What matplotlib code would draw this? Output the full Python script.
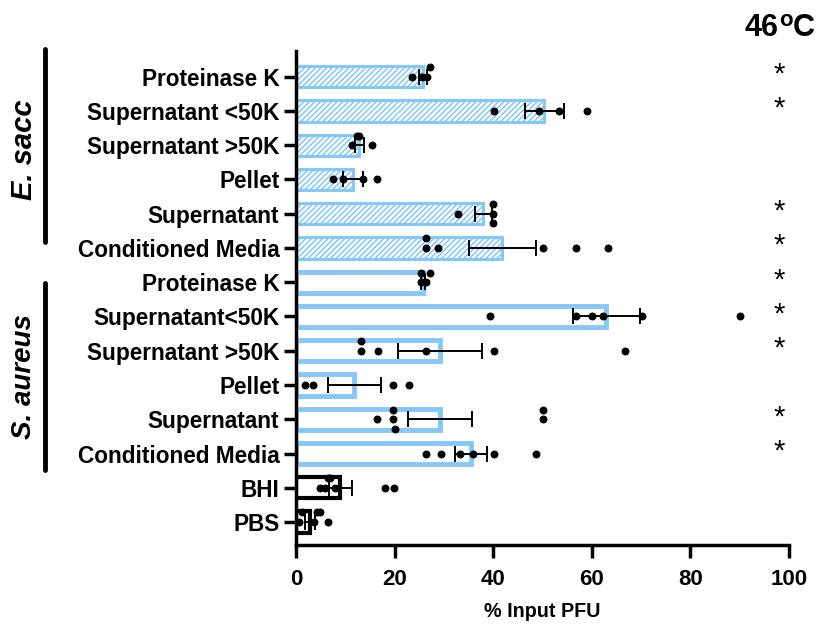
import numpy as np
import matplotlib
matplotlib.use("Agg")
import matplotlib.pyplot as plt
from matplotlib.lines import Line2D

plt.rcParams['font.family'] = ['Liberation Sans', 'DejaVu Sans']
plt.rcParams['font.weight'] = 'bold'
plt.rcParams['hatch.linewidth'] = 1.1

# rows listed top to bottom
labels = ["Proteinase K", "Supernatant <50K", "Supernatant >50K", "Pellet",
          "Supernatant", "Conditioned Media",
          "Proteinase K", "Supernatant<50K", "Supernatant >50K", "Pellet",
          "Supernatant", "Conditioned Media",
          "BHI", "PBS"]
groups = ["esacc"] * 6 + ["saureus"] * 6 + ["ctrl"] * 2

means = [25.7, 50.4, 12.8, 11.6, 38.0, 41.8,
         25.8, 62.9, 29.2, 11.8, 29.2, 35.5,
         9.0, 2.8]
sems = [0.8, 4.0, 0.9, 2.0, 1.7, 6.8,
        0.4, 6.8, 8.6, 5.4, 6.5, 3.2,
        2.4, 1.0]
points = [
    [23.5, 25.5, 26.5, 27.1],
    [40.1, 49.2, 53.3, 59.1],
    [11.4, 12.3, 12.7, 15.4],
    [7.6, 9.5, 13.5, 16.4],
    [32.9, 40.0, 40.0, 40.0],
    [26.3, 26.3, 28.9, 50.1, 56.7, 63.2],
    [25.3, 25.3, 26.3, 27.2],
    [39.4, 56.7, 60.1, 62.3, 70.1, 90.1],
    [13.2, 13.2, 16.7, 26.3, 40.1, 66.8],
    [1.9, 3.4, 19.7, 23.0],
    [16.4, 19.7, 19.7, 20.1, 50.1, 50.1],
    [26.3, 29.5, 33.3, 36.0, 40.1, 48.7],
    [4.8, 5.8, 6.4, 6.8, 7.9, 18.0, 19.8],
    [0.7, 1.2, 3.6, 4.3, 4.9, 6.4],
]
stars = [True, True, False, False, True, True,
         True, True, True, False, True, True,
         False, False]

blue = "#85C7F7"

W, H = 820, 624
fig = plt.figure(figsize=(W / 100, H / 100), dpi=100)
ax = fig.add_axes([296 / W, 1 - 545 / H, (789 - 296) / W, (545 - 51) / H])

n = len(labels)
ypos = np.arange(n)[::-1]

for y, m, s, g, pts in zip(ypos, means, sems, groups, points):
    if g == "esacc":
        ax.barh(y, m, height=0.62, color="white", edgecolor=blue, hatch="//////",
                linewidth=2.2, zorder=2)
    elif g == "saureus":
        ax.barh(y, m, height=0.62, color="white", edgecolor=blue,
                linewidth=3.5, zorder=2)
    else:
        ax.barh(y, m, height=0.62, color="white", edgecolor="black",
                linewidth=3.0, zorder=2)
    ax.errorbar(m, y, xerr=s, fmt="none", ecolor="black", elinewidth=1.4,
                capsize=6, capthick=1.4, zorder=3)
    # spread near-identical values vertically
    vals = sorted(pts)
    offs = []
    for i, v in enumerate(vals):
        k = sum(1 for u in vals[:i] if abs(u - v) < 1.0)
        offs.append([0, 0.28, -0.28, 0.14, -0.14][k % 5])
    ax.scatter(vals, y + np.array(offs), s=22, color="black", zorder=4)

for y, st in zip(ypos, stars):
    if st:
        ax.text(98, y + 0.06, "*", ha="center", va="center", fontsize=21,
                fontweight="normal")

ax.set_xlim(0, 100)
ax.set_ylim(-0.67, n - 1 + 0.75)
ax.set_xticks([0, 20, 40, 60, 80, 100])
ax.set_yticks(ypos)
ax.set_yticklabels(labels)
ax.tick_params(axis="y", length=9, width=2.5, labelsize=16.3, pad=3)
ax.tick_params(axis="x", length=9, width=2.5, labelsize=16, pad=8)
ax.set_xlabel("% Input PFU", fontsize=14.2, fontweight="bold", labelpad=9)
for side in ["top", "right"]:
    ax.spines[side].set_visible(False)
for side in ["left", "bottom"]:
    ax.spines[side].set_linewidth(2.5)

# title 46oC with a raised o
fig.text(779 / W, 1 - 36 / H, "46", ha="right", va="baseline",
         fontsize=22, fontweight="bold")
fig.text(779 / W, 1 - 26 / H, "o", ha="left", va="baseline",
         fontsize=16, fontweight="bold")
fig.text(793 / W, 1 - 36 / H, "C", ha="left", va="baseline",
         fontsize=22, fontweight="bold")

# group brackets on the left
def fx(x):
    return x / W

def fy(y):
    return 1 - y / H

fig.add_artist(Line2D([fx(45), fx(45)], [fy(49), fy(242)], color="black",
                      linewidth=3.5, solid_capstyle="round"))
fig.add_artist(Line2D([fx(45), fx(45)], [fy(283), fy(470)], color="black",
                      linewidth=3.5, solid_capstyle="round"))
fig.text(fx(24), fy(150), "E. sacc", rotation=90, ha="center", va="center",
         fontsize=21, fontweight="bold", style="italic")
fig.text(fx(24), fy(377), "S. aureus", rotation=90, ha="center", va="center",
         fontsize=20, fontweight="bold", style="italic")

fig.savefig("out.png", dpi=100)
